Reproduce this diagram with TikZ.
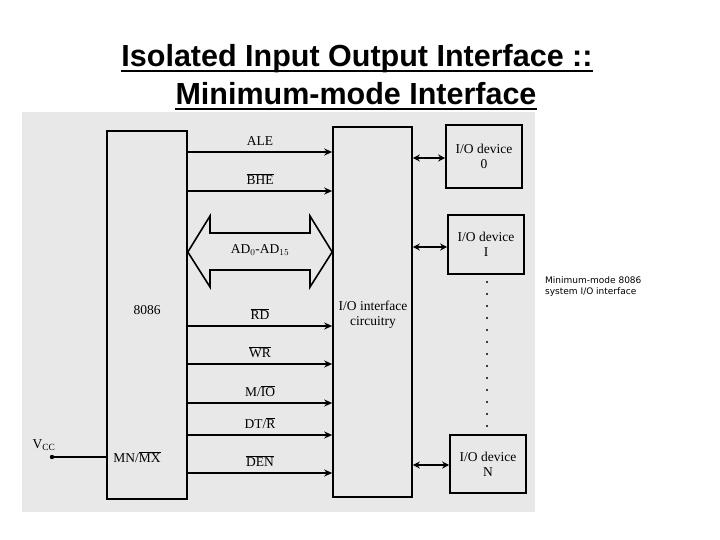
\documentclass[tikz,border=0pt]{standalone}
\usepackage{fontspec}
\setmainfont{Liberation Serif}
\setsansfont{Liberation Sans}
\newfontfamily\capfont{DejaVu Sans}
\usetikzlibrary{arrows.meta}
\tikzset{blk/.style={draw,line width=1.6pt,inner sep=0pt},
sig/.style={-{Stealth[length=8pt,width=7pt]},line width=1.6pt},
dev/.style={{Stealth[length=7pt,width=7pt]}-{Stealth[length=7pt,width=7pt]},line width=1.6pt},
lbl/.style={font=\fontsize{13.5}{15}\selectfont},
ttl/.style={font=\sffamily\bfseries\fontsize{30.5}{34}\selectfont,anchor=base,inner sep=0pt},
uln/.style={line width=2pt}}
\begin{document}
\begin{tikzpicture}[x=1pt,y=-1pt]
\useasboundingbox (0,0) rectangle (720,540);
\fill[white] (0,0) rectangle (720,540);
\node[ttl] (t1) at (357,67) {Isolated Input Output Interface ::\ };
\node[ttl] (t2) at (356,105) {Minimum-mode Interface\ };
\draw[uln] ([yshift=-4pt]t1.base west) -- ([yshift=-4pt]t1.base east);
\draw[uln] ([yshift=-4pt]t2.base west) -- ([yshift=-4pt]t2.base east);
\fill[black!9] (22,112) rectangle (535,512);
\node[blk,minimum width=80pt,minimum height=368pt] (cpu) at (147,315) {};
\node[blk,minimum width=79pt,minimum height=370pt] (ioc) at (372.5,312) {};
\node[blk,minimum width=76pt,minimum height=63pt,align=center,lbl] (d0) at (484,156.5) {I/O device\\0};
\node[blk,minimum width=76pt,minimum height=59pt,align=center,lbl] (d1) at (486,244.5) {I/O device\\I};
\node[blk,minimum width=76pt,minimum height=58pt,align=center,lbl] (dn) at (488,464) {I/O device\\N};
\node[lbl] (c8086) at (147,310) {8086};
\node[lbl,align=center] (cio) at (373,315) {I/O interface\\circuitry};
\node[lbl] (mnmx) at (137,457) {MN/$\overline{\mathrm{MX}}$};
\foreach \y/\t in {152/{ALE},191/{$\overline{\mathrm{BHE}}$},326/{$\overline{\mathrm{RD}}$},364/{$\overline{\mathrm{WR}}$},403/{M/$\overline{\mathrm{IO}}$},435/{DT/$\overline{\mathrm{R}}$},473/{$\overline{\mathrm{DEN}}$}}{
 \coordinate (a\y) at (cpu.east |- 0,\y);
 \coordinate (b\y) at (ioc.west |- 0,\y);
 \draw[sig] (a\y) -- (b\y) node[midway,above=2pt,lbl]{\t};
}
\coordinate (bl) at (cpu.east |- 0,252);
\coordinate (br) at (ioc.west |- 0,252);
\draw[line width=1.6pt,line join=miter] (bl) -- (210,216) -- (210,233) -- (310,233) -- (310,216) -- (br) -- (310,287) -- (310,270) -- (210,270) -- (210,287) -- cycle;
\node[lbl] (busl) at (260,250) {AD$_0$-AD$_{15}$};
\coordinate (e0) at (ioc.east |- 0,158); \draw[dev] (e0) -- (d0.west |- e0);
\coordinate (e1) at (ioc.east |- 0,247); \draw[dev] (e1) -- (d1.west |- e1);
\coordinate (en) at (ioc.east |- 0,465); \draw[dev] (en) -- (dn.west |- en);
\foreach \y in {282,294,...,426} \fill (487,\y) circle (1.2pt);
\fill (52,457) circle (2.2pt) coordinate (vcc);
\draw[line width=1.6pt] (vcc) -- (cpu.west |- vcc);
\node[lbl] (vl) at (44,445) {V$_{\mathrm{CC}}$};
\node[anchor=north west,align=left,font=\capfont\fontsize{9}{11}\selectfont,inner sep=0pt] (cap) at (545,276) {Minimum-mode 8086\\system I/O interface};
\end{tikzpicture}
\end{document}
